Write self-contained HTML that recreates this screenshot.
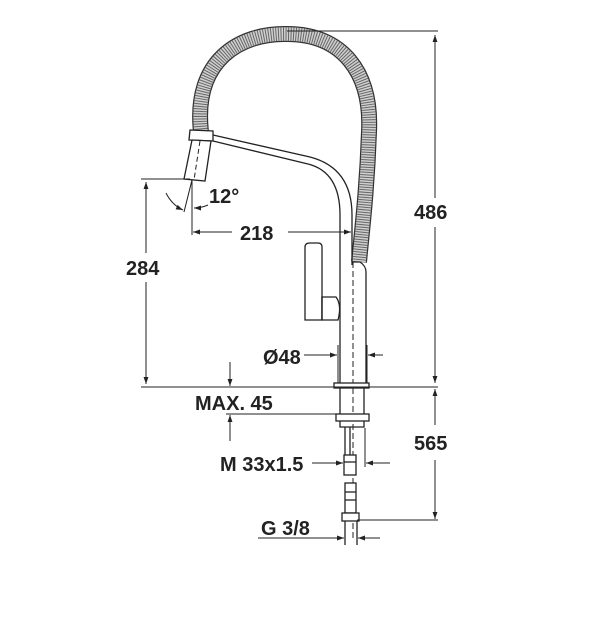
<!DOCTYPE html>
<html><head><meta charset="utf-8"><style>
html,body{margin:0;padding:0;background:#fff;}
svg{display:block}
text{font-family:"Liberation Sans",Arial,sans-serif;font-weight:bold;fill:#222;}
</style></head><body>
<svg width="605" height="627" viewBox="0 0 605 627" xmlns="http://www.w3.org/2000/svg">
<defs>
<marker id="a" viewBox="0 0 10 10" refX="10" refY="5" markerWidth="9" markerHeight="7" orient="auto-start-reverse" markerUnits="userSpaceOnUse"><path d="M0,1.5 L10,5 L0,8.5 z" fill="#222"/></marker>
</defs>
<g fill="none" stroke="#222" stroke-width="1.3">
<path d="M201,132 C193,60 240,33 287,34 C342,34 372,72 369,132 C367,190 362,230 359,262" stroke="#333" stroke-width="16"/>
<path d="M201,132 C193,60 240,33 287,34 C342,34 372,72 369,132 C367,190 362,230 359,262" stroke="#d0d0d0" stroke-width="13.5"/>
<path d="M201,132 C193,60 240,33 287,34 C342,34 372,72 369,132 C367,190 362,230 359,262" stroke="#666" stroke-width="13.5" stroke-dasharray="1 1.5"/>
<path d="M190,130 L213,131 L213,141 L189,140 Z" fill="#fff"/>
<path d="M192,140 L211,141 L205,181 L184,179 Z" fill="#fff"/>
<line x1="200" y1="141" x2="194" y2="180" stroke-dasharray="5 3" stroke-width="1"/>
<path d="M213,135 L310,157 Q352,168 352,215 L352,265" />
<path d="M213,141 L308,164 Q340,172 340,215 L340,385" fill="none"/>
<path d="M352,262 L360,262 Q366,266 366,272 L366,383"/>
<line x1="353" y1="262" x2="353" y2="385" stroke-dasharray="6 3" stroke-width="1"/>
<path d="M305,247 Q305,243 310,243 L318,243 Q322,243 322,247 L322,320 L305,320 Z" fill="#fff"/>
<path d="M322,297 L336,297 Q342,305 338,320 L322,320 Z" fill="#fff"/>
<line x1="322" y1="297" x2="322" y2="320"/>
<rect x="334" y="383" width="35" height="5" fill="#fff"/>
<path d="M340,388 L340,414 M364,388 L364,414"/>
<line x1="353" y1="388" x2="353" y2="540" stroke-dasharray="6 3" stroke-width="1"/>
<rect x="336" y="414" width="33" height="7" fill="#fff"/>
<path d="M340,421 L340,427 L364,427 L364,421"/>
<path d="M345,427 L345,455 M350,427 L350,455"/>
<rect x="344" y="455" width="12" height="20" fill="#fff"/>
<line x1="344" y1="462" x2="356" y2="462"/>
<rect x="345" y="483" width="11" height="30" fill="#fff"/>
<line x1="345" y1="492" x2="356" y2="492"/><line x1="345" y1="500" x2="356" y2="500"/>
<rect x="342" y="513" width="17" height="8" fill="#fff"/>
<path d="M345,521 L345,545 M357,521 L357,545"/>
</g>
<g fill="none" stroke="#222" stroke-width="1">
<line x1="287" y1="31" x2="438" y2="31"/>
<line x1="435" y1="35" x2="435" y2="198" marker-start="url(#a)"/>
<line x1="435" y1="227" x2="435" y2="383" marker-end="url(#a)"/>
<line x1="141" y1="387" x2="438" y2="387"/>
<line x1="141" y1="179" x2="190" y2="179"/>
<line x1="146" y1="182" x2="146" y2="253" marker-start="url(#a)"/>
<line x1="146" y1="282" x2="146" y2="384" marker-end="url(#a)"/>
<line x1="192" y1="180" x2="192" y2="235"/>
<line x1="192" y1="180" x2="184" y2="212"/>
<path d="M166,193 Q172,205 183,210" marker-end="url(#a)"/>
<path d="M208,205 Q201,208 194,208" marker-end="url(#a)"/>
<line x1="232" y1="232" x2="193" y2="232" marker-end="url(#a)"/>
<line x1="288" y1="232" x2="351" y2="232" marker-end="url(#a)"/>
<line x1="338" y1="345" x2="338" y2="383"/>
<line x1="367" y1="345" x2="367" y2="383"/>
<line x1="304" y1="355" x2="337" y2="355" marker-end="url(#a)"/>
<line x1="383" y1="355" x2="368" y2="355" marker-end="url(#a)"/>
<line x1="230" y1="362" x2="230" y2="386" marker-end="url(#a)"/>
<line x1="226" y1="414" x2="336" y2="414"/>
<line x1="230" y1="441" x2="230" y2="415" marker-end="url(#a)"/>
<line x1="365" y1="428" x2="365" y2="467"/>
<line x1="312" y1="463" x2="343" y2="463" marker-end="url(#a)"/>
<line x1="390" y1="463" x2="366" y2="463" marker-end="url(#a)"/>
<line x1="435" y1="425" x2="435" y2="389" marker-end="url(#a)"/>
<line x1="435" y1="460" x2="435" y2="519" marker-end="url(#a)"/>
<line x1="357" y1="520" x2="438" y2="520"/>
<line x1="258" y1="538" x2="344" y2="538" marker-end="url(#a)"/>
<line x1="380" y1="538" x2="358" y2="538" marker-end="url(#a)"/>
</g>
<g font-size="20">
<text x="414" y="219">486</text>
<text x="126" y="275">284</text>
<text x="209" y="203">12°</text>
<text x="240" y="240">218</text>
<text x="263" y="364">Ø48</text>
<text x="195" y="410">MAX. 45</text>
<text x="414" y="450">565</text>
<text x="220" y="471">M 33x1.5</text>
<text x="261" y="535">G 3/8</text>
</g>
</svg>
</body></html>
